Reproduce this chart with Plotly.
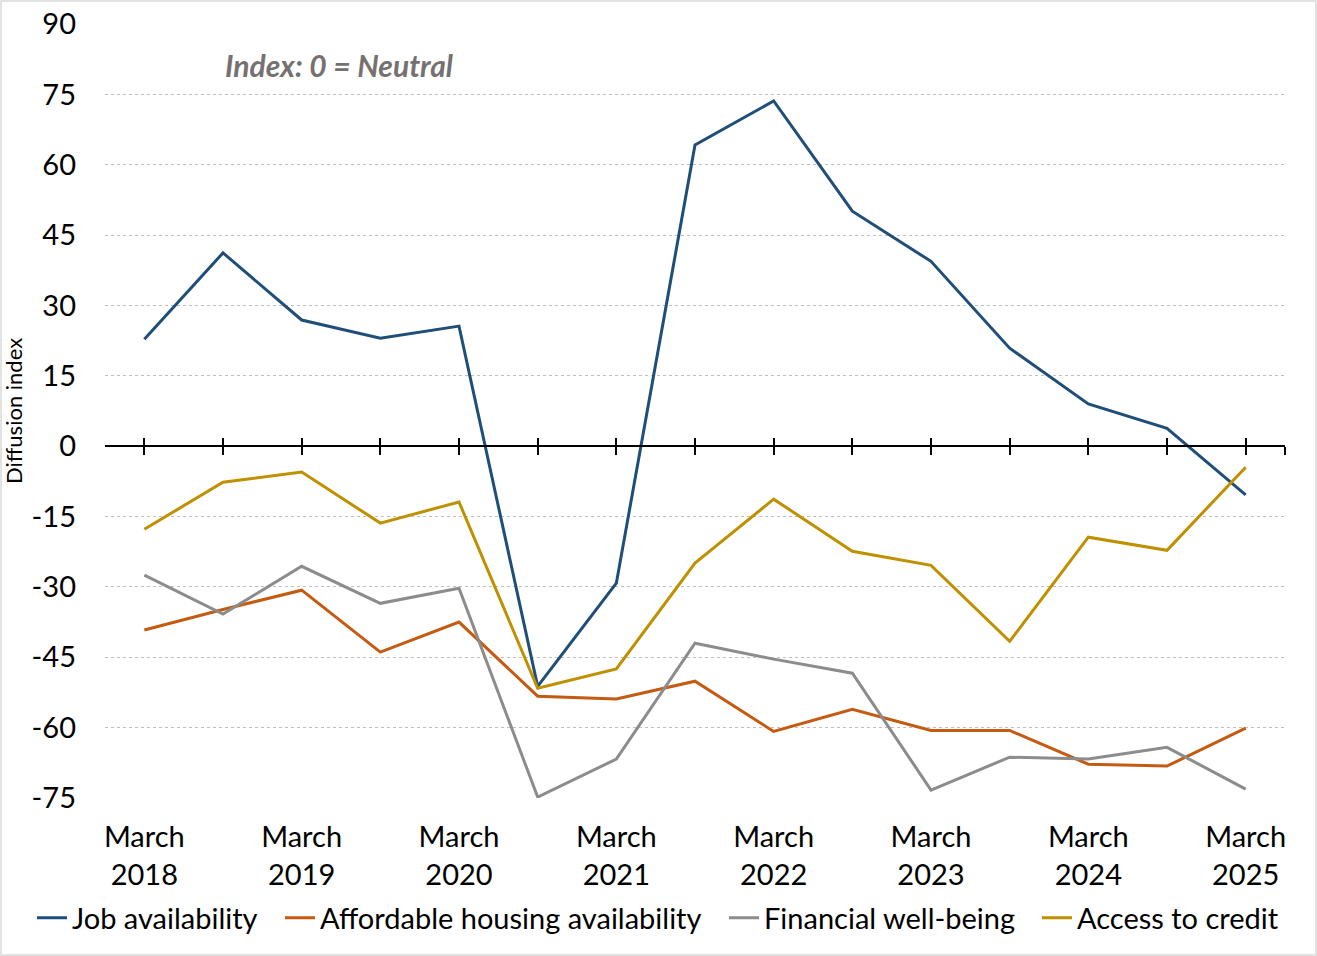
import plotly.graph_objects as go

# semiannual survey periods, March 2018 .. March 2025
periods = ["March 2018", "September 2018", "March 2019", "September 2019",
           "March 2020", "September 2020", "March 2021", "September 2021",
           "March 2022", "September 2022", "March 2023", "September 2023",
           "March 2024", "September 2024", "March 2025"]
tick_labels = ["March<br>2018", "", "March<br>2019", "", "March<br>2020", "",
               "March<br>2021", "", "March<br>2022", "", "March<br>2023", "",
               "March<br>2024", "", "March<br>2025"]
y_ticks = [-75, -60, -45, -30, -15, 0, 15, 30, 45, 60, 75, 90]

job = [22.8, 41.2, 26.9, 23.0, 25.6, -51.2, -29.2, 64.2, 73.6, 50.1,
       39.4, 20.9, 9.0, 3.8, -10.4]
housing = [-39.2, -34.8, -30.7, -43.9, -37.5, -53.3, -53.9, -50.1, -60.8,
           -56.1, -60.6, -60.6, -67.8, -68.2, -60.1]
wellbeing = [-27.5, -35.8, -25.6, -33.5, -30.3, -74.8, -66.7, -42.0, -45.4,
             -48.4, -73.3, -66.3, -66.7, -64.2, -73.1]
credit = [-17.7, -7.7, -5.5, -16.4, -11.9, -51.6, -47.5, -24.9, -11.3,
          -22.4, -25.4, -41.6, -19.4, -22.2, -4.5]

series = [("Job availability", job, "#1F4E79"),
          ("Affordable housing availability", housing, "#C55A11"),
          ("Financial well-being", wellbeing, "#8C8C8C"),
          ("Access to credit", credit, "#BF9000")]

FONT = "Lato"
W, H = 1317, 956
x = list(range(len(periods)))

# one legend per series so entries sit where the original has them
legend_x = [32, 280, 724, 1037]
legend_ids = ["legend", "legend2", "legend3", "legend4"]

fig = go.Figure()
for (name, vals, col), lid in zip(series, legend_ids):
    fig.add_trace(go.Scatter(x=x, y=vals, name=name, mode="lines",
                             line=dict(color=col, width=3), legend=lid,
                             text=periods, hovertemplate="%{text}: %{y}<extra>" + name + "</extra>"))

# invisible helpers so the two overlay axes (zero line with crossing ticks) get drawn
for ax in ["x2", "x3"]:
    fig.add_trace(go.Scatter(x=x, y=[None] * len(x), xaxis=ax, mode="lines",
                             showlegend=False, hoverinfo="skip"))

ymin, ymax = -75, 90
zero_pos = (0 - ymin) / (ymax - ymin)
xr = [-0.5, len(periods) - 0.5]
axis_ticks = x + [len(periods) - 0.5]

legends = {}
for lid, px in zip(legend_ids, legend_x):
    legends[lid] = dict(orientation="h", xref="container", yref="container",
                        x=px / W, xanchor="left", y=1 - 918 / H, yanchor="middle",
                        font=dict(size=29), itemwidth=30, bgcolor="rgba(0,0,0,0)")

fig.update_layout(
    width=W, height=H,
    margin=dict(l=105, r=32, t=24, b=158),
    paper_bgcolor="white", plot_bgcolor="white",
    font=dict(family=FONT, size=29, color="black"),
    showlegend=True,
    xaxis=dict(range=xr, tickmode="array", tickvals=x, ticktext=tick_labels,
               showgrid=False, zeroline=False, showline=False, ticks="",
               ticklabelstandoff=19, automargin=False),
    xaxis2=dict(overlaying="x", anchor="free", position=zero_pos, range=xr,
                tickmode="array", tickvals=axis_ticks, ticks="outside", ticklen=8,
                tickwidth=1.5, tickcolor="black", showticklabels=False,
                showline=True, linecolor="black", linewidth=2, showgrid=False,
                zeroline=False, automargin=False),
    xaxis3=dict(overlaying="x", anchor="free", position=zero_pos, range=xr,
                tickmode="array", tickvals=axis_ticks, ticks="inside", ticklen=8,
                tickwidth=1.5, tickcolor="black", showticklabels=False,
                showline=False, showgrid=False, zeroline=False, automargin=False),
    yaxis=dict(range=[ymin, ymax], tickmode="array", tickvals=y_ticks,
               ticktext=[str(v) for v in y_ticks],
               showgrid=True, gridcolor="#BFBFBF", griddash="dot", gridwidth=1,
               zeroline=False, showline=False, ticks="",
               ticklabelstandoff=28, automargin=False,
               title=dict(text="Diffusion index", font=dict(size=22), standoff=2)),
    annotations=[dict(text="<b><i>Index: 0 = Neutral</i></b>", xref="paper", yref="paper",
                      x=0.100, y=0.947, xanchor="left", yanchor="middle", showarrow=False,
                      font=dict(family=FONT, size=30, color="#767171"))],
    shapes=[dict(type="rect", xref="paper", yref="paper",
                 x0=-104 / 1180, x1=1 + 31 / 1180, y0=-157 / 774, y1=1 + 23 / 774,
                 line=dict(color="#D9D9D9", width=1.5))],
    **legends,
)

fig.write_html("out.html", config={"displayModeBar": False},
               post_script="document.body.style.margin='0';")
